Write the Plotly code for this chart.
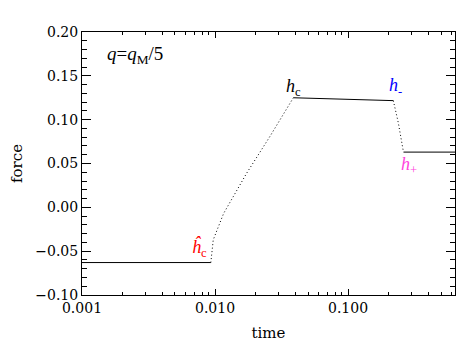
import plotly.graph_objects as go

# --- data ---
flat1_t = [0.001, 0.0093]
flat1_f = [-0.063, -0.063]
rise_t = [0.0093, 0.0097, 0.0116, 0.0173, 0.0259, 0.0388]
rise_f = [-0.063, -0.037, -0.007, 0.039, 0.081, 0.125]
plateau_t = [0.0388, 0.09, 0.219]
plateau_f = [0.125, 0.1236, 0.1217]
drop_t = [0.219, 0.239, 0.261]
drop_f = [0.1217, 0.096, 0.063]
flat2_t = [0.261, 0.7]
flat2_f = [0.063, 0.063]

x_tickvals = [0.001, 0.01, 0.1]
x_ticktext = ["0.001", "0.010", "0.100"]

serif = "DejaVu Serif"
lab = "Liberation Serif"

fig = go.Figure()
segs = [(flat1_t, flat1_f, "solid"), (rise_t, rise_f, "1px,2.5px"),
        (plateau_t, plateau_f, "solid"), (drop_t, drop_f, "1px,2.5px"),
        (flat2_t, flat2_f, "solid")]
for t, f, d in segs:
    fig.add_trace(go.Scatter(x=t, y=f, mode="lines",
                             line=dict(color="black", width=1, dash=d),
                             showlegend=False, hoverinfo="skip"))

annots = [
    (-2.827, 0.1738, "<i>q</i>=<i>q</i><sub>M</sub>/5", "black", 19, "left"),
    (-2.113, -0.046, "<i>ĥ</i><sub>c</sub>", "#ff0000", 18, "center"),
    (-1.413, 0.137, "<i>h</i><sub>c</sub>", "black", 18, "center"),
    (-0.647, 0.1384, "<i>h</i><sub>-</sub>", "#0000ff", 18, "center"),
    (-0.541, 0.0472, "<i>h</i><sub>+</sub>", "#ff44dd", 18, "center"),
]
for x, y, txt, col, sz, xa in annots:
    fig.add_annotation(x=x, y=y, xref="x", yref="y", text=txt, showarrow=False,
                       xanchor=xa, yanchor="middle",
                       font=dict(family=lab, size=sz, color=col))

axis_common = dict(showline=True, linecolor="black", linewidth=1, mirror="ticks",
                   ticks="inside", tickcolor="black", showgrid=False, automargin=False,
                   zeroline=False, tickfont=dict(family=serif, size=14, color="black"))

fig.update_xaxes(type="log", range=[-3, -0.196], tickvals=x_tickvals,
                 ticktext=x_ticktext, ticklen=6,
                 minor=dict(ticks="inside", ticklen=3, dtick="D1", tickcolor="black",
                            showgrid=False),
                 title=dict(text="time", font=dict(family=serif, size=15, color="black"),
                            standoff=12),
                 **axis_common)
fig.update_yaxes(range=[-0.1, 0.2], dtick=0.05, tickformat=".2f", ticklen=9,
                 minor=dict(ticks="inside", ticklen=5, dtick=0.01, tickcolor="black",
                            showgrid=False),
                 title=dict(text="force", font=dict(family=serif, size=15, color="black"),
                            standoff=21),
                 **axis_common)

fig.update_layout(width=461, height=344, margin=dict(l=74, r=14, t=24, b=57),
                  plot_bgcolor="white", paper_bgcolor="white",
                  font=dict(family=serif, size=13, color="black"))

fig.write_html("out.html")
